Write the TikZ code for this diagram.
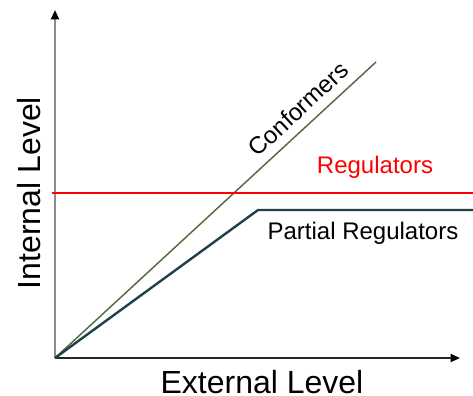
\documentclass[tikz,border=0pt]{standalone}
\usepackage{fontspec}
\setmainfont{Liberation Sans}
\usetikzlibrary{arrows.meta}
\definecolor{confcol}{HTML}{556B3F}
\definecolor{partcol}{HTML}{1F3F4A}
\definecolor{regred}{HTML}{FF0000}
\begin{document}
\begin{tikzpicture}[x=0.75pt,y=-0.75pt,
  axisstyle/.style={line width=1.5pt,-{Triangle[length=7pt,width=6pt,black]}},
  lbl/.style={inner sep=0pt,font=\fontsize{18}{20}\selectfont}]
\useasboundingbox (0,0) rectangle (473,395);
\coordinate (o) at (55,358);
\coordinate (ytop) at (55,10);
\coordinate (xend) at (460,358);
\coordinate (cend) at (376,62);
\coordinate (pk) at (258,210);
\coordinate (pend) at (473,210);
\coordinate (rs) at (52,193);
\coordinate (re) at (473,193);
\draw[axisstyle,draw=black!45] (o) -- (ytop);
\draw[axisstyle,draw=black!85] (o) -- (xend);
\draw[confcol,line width=1.1pt] (o) -- (cend);
\draw[regred,line width=1.6pt] (rs) -- (re);
\draw[partcol,line width=1.8pt] (o) -- (pk) -- (pend);
\node[lbl,rotate=42.7] (conf) at (298,109) {Conformers};
\node[lbl,text=regred] (reg) at (375,167) {Regulators};
\node[lbl] (part) at (363,233) {Partial Regulators};
\node[inner sep=0pt,font=\fontsize{24}{26}\selectfont] (ext) at (262,382) {External Level};
\node[inner sep=0pt,font=\fontsize{24}{26}\selectfont,rotate=90] (int) at (29,193) {Internal Level};
\end{tikzpicture}
\end{document}
